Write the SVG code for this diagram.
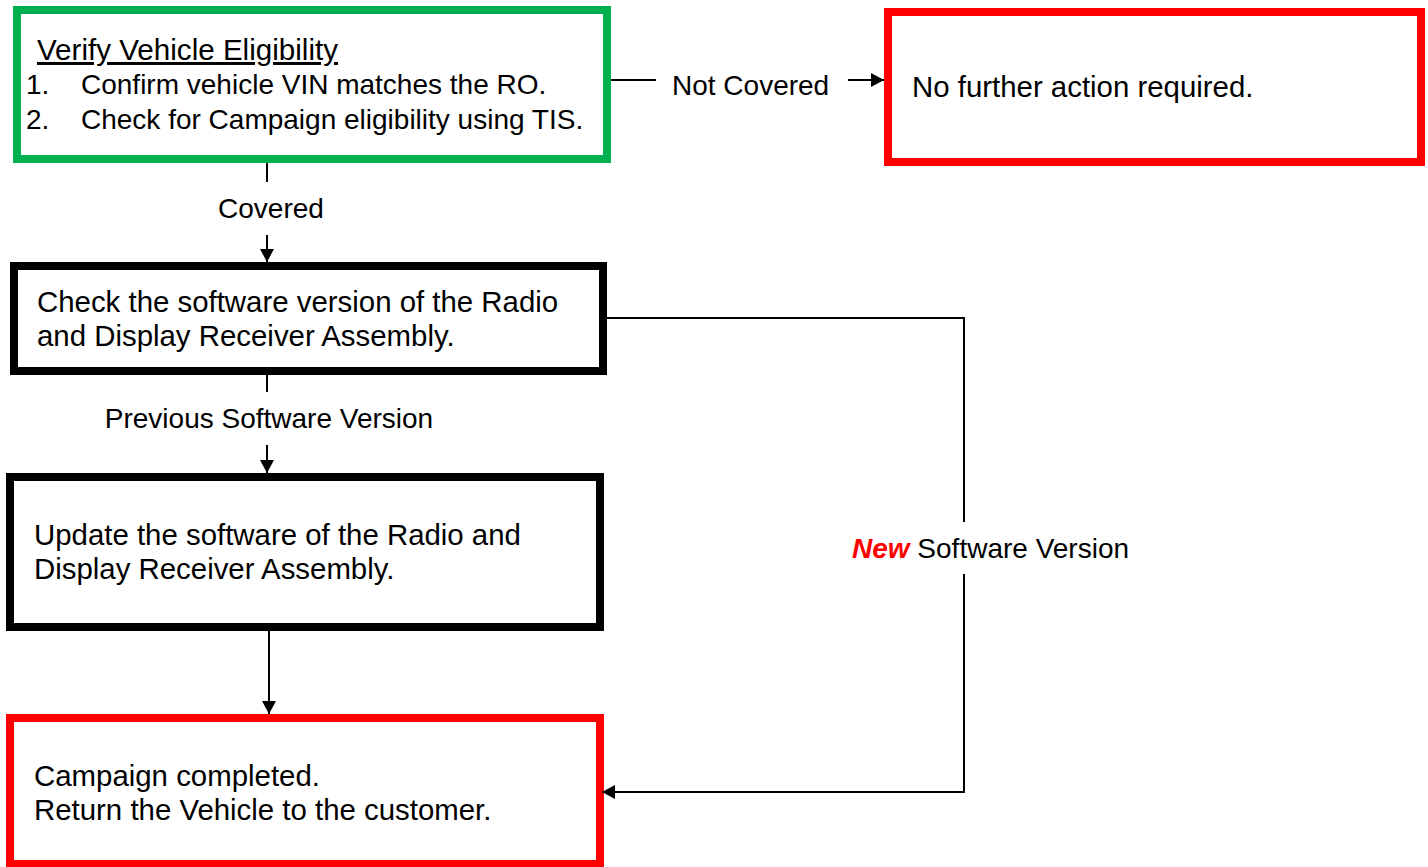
<svg xmlns="http://www.w3.org/2000/svg" width="1428" height="867" viewBox="0 0 1428 867">
<style>
  text { font-family: "Liberation Sans", Arial, sans-serif; fill: #000; }
  .body { font-size: 29.4px; }
  .item { font-size: 28px; }
  .lbl { font-size: 28px; }
  .box { fill: #fff; stroke-width: 8; }
  .green { stroke: #00B050; }
  .red { stroke: #FF0000; }
  .black { stroke: #000; }
  .conn { fill: none; stroke: #000; stroke-width: 2; }
</style>
<defs>
  <marker id="arrow" viewBox="0 0 13 14" refX="13" refY="7" markerWidth="13" markerHeight="14" markerUnits="userSpaceOnUse" orient="auto">
    <path d="M0,0 L13,7 L0,14 z" fill="#000"/>
  </marker>
</defs>
<rect width="1428" height="867" fill="#fff"/>

<g id="node-verify">
  <rect class="box green" x="17" y="10" width="590" height="149"/>
  <text class="body" x="37" y="60" style="font-size:29.6px" text-decoration="underline">Verify Vehicle Eligibility</text>
  <text class="item" x="26" y="94">1.</text>
  <text class="item" x="81" y="94">Confirm vehicle VIN matches the RO.</text>
  <text class="item" x="26" y="129">2.</text>
  <text class="item" x="81" y="129">Check for Campaign eligibility using TIS.</text>
</g>

<g id="node-no-action">
  <rect class="box red" x="888" y="12" width="533" height="150"/>
  <text class="body" x="912" y="97">No further action required.</text>
</g>

<g id="node-check">
  <rect class="box black" x="14" y="266" width="589" height="105"/>
  <text class="body" x="37" y="312">Check the software version of the Radio</text>
  <text class="body" x="37" y="346">and Display Receiver Assembly.</text>
</g>

<g id="node-update">
  <rect class="box black" x="10" y="477" width="590" height="150"/>
  <text class="body" x="34" y="545">Update the software of the Radio and</text>
  <text class="body" x="34" y="579">Display Receiver Assembly.</text>
</g>

<g id="node-complete">
  <rect class="box red" x="10" y="718" width="590" height="146"/>
  <text class="body" x="34" y="786">Campaign completed.</text>
  <text class="body" x="34" y="820">Return the Vehicle to the customer.</text>
</g>

<g id="connectors">
  <path class="conn" d="M611,80 H656 M848,80 H884" marker-end="url(#arrow)"/>
  <text class="lbl" x="672" y="95">Not Covered</text>

  <path class="conn" d="M267,163 V182 M267,235 V262" marker-end="url(#arrow)"/>
  <text class="lbl" x="271" y="218" text-anchor="middle">Covered</text>

  <path class="conn" d="M267,375 V392 M267,445 V473" marker-end="url(#arrow)"/>
  <text class="lbl" x="269" y="428" text-anchor="middle">Previous Software Version</text>

  <path class="conn" d="M269,630 V714" marker-end="url(#arrow)"/>

  <path class="conn" d="M607,318 H964 V522 M964,574 V792 H602" marker-end="url(#arrow)"/>
  <text class="lbl" x="852" y="558"><tspan fill="#FF0000" font-weight="bold" font-style="italic">New</tspan> Software Version</text>
</g>
</svg>
